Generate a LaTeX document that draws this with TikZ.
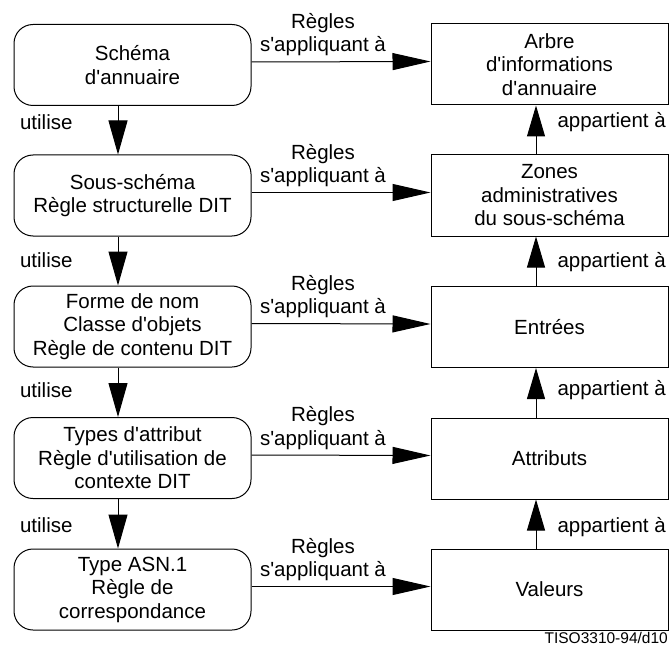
\documentclass[tikz,border=0pt]{standalone}
\usepackage{fontspec}
\setmainfont[Ligatures=TeXOff]{Liberation Sans}
\usetikzlibrary{arrows.meta}
\begin{document}
\begin{tikzpicture}[x=1pt,y=-1pt,
  every node/.style={font=\fontsize{20.5}{23.5}\selectfont},
  lbox/.style={draw, line width=1pt, rounded corners=19pt, minimum width=237pt, minimum height=81pt, inner sep=0pt, align=center},
  rbox/.style={draw, line width=1pt, minimum width=237pt, minimum height=81pt, inner sep=0pt, align=center},
  lab/.style={align=center, inner sep=0pt},
  varrow/.style={line width=1pt, -{Triangle[length=34pt,width=19pt]}},
  harrow/.style={line width=1pt, -{Triangle[length=38pt,width=17pt]}},
  uarrow/.style={line width=1pt, -{Triangle[length=31pt,width=18pt]}},
]
\useasboundingbox (0,0) rectangle (671,652);

% left column
\node[lbox] (L1) at (132.5,65) {Schéma\\d'annuaire};
\node[lbox] (L2) at (132.5,195.5) {Sous-schéma\\Règle structurelle DIT};
\node[lbox] (L3) at (132.5,326.5) {Forme de nom\\Classe d'objets\\Règle de contenu DIT};
\node[lbox] (L4) at (132.5,458) {Types d'attribut\\Règle d'utilisation de\\contexte DIT};
\node[lbox] (L5) at (132.5,589.5) {Type ASN.1\\Règle de\\correspondance};

% right column
\node[rbox] (R1) at (549.5,64.5) {Arbre\\d'informations\\d'annuaire};
\node[rbox] (R2) at (549.5,195.5) {Zones\\administratives\\du sous-schéma};
\node[rbox] (R3) at (549.5,327) {Entrées};
\node[rbox] (R4) at (549.5,458.5) {Attributs};
\node[rbox] (R5) at (549.5,589.5) {Valeurs};

% horizontal arrows
\foreach \i in {1,...,5}{
  \draw[harrow] ([yshift=3pt]L\i.east) -- node[lab, above=5pt, xshift=-18pt] {Règles\\s'appliquant à} ([yshift=3pt]R\i.west);
}

% left vertical arrows
\draw[varrow] ([xshift=-14.5pt]L1.south) -- node[lab, pos=0.33, left=45pt] {utilise} ([xshift=-14.5pt]L2.north);
\draw[varrow] ([xshift=-14.5pt]L2.south) -- node[lab, pos=0.48, left=45pt] {utilise} ([xshift=-14.5pt]L3.north);
\draw[varrow] ([xshift=-14.5pt]L3.south) -- node[lab, pos=0.46, left=45pt] {utilise} ([xshift=-14.5pt]L4.north);
\draw[varrow] ([xshift=-14.5pt]L4.south) -- node[lab, pos=0.53, left=45pt] {utilise} ([xshift=-14.5pt]L5.north);

% right vertical arrows
\draw[uarrow] ([xshift=-13.5pt]R2.north) -- node[lab, pos=0.66, right=21pt] {appartient à} ([xshift=-13.5pt]R1.south);
\draw[uarrow] ([xshift=-13.5pt]R3.north) -- node[lab, pos=0.49, right=21pt] {appartient à} ([xshift=-13.5pt]R2.south);
\draw[uarrow] ([xshift=-13.5pt]R4.north) -- node[lab, pos=0.55, right=21pt] {appartient à} ([xshift=-13.5pt]R3.south);
\draw[uarrow] ([xshift=-13.5pt]R5.north) -- node[lab, pos=0.44, right=21pt] {appartient à} ([xshift=-13.5pt]R4.south);

% footer
\node[inner sep=0pt, anchor=base east, font=\fontsize{15.5}{18}\selectfont] (foot) at (668,643) {TISO3310-94/d10};
\end{tikzpicture}
\end{document}
